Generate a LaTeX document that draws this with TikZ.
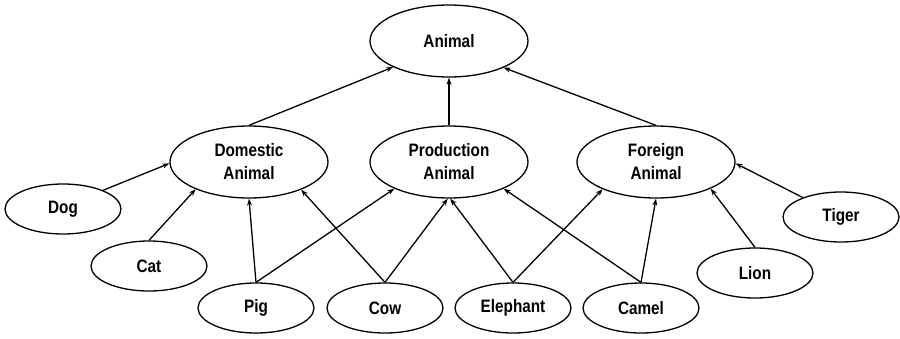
\documentclass[tikz,border=0pt]{standalone}
\usepackage{fontspec}
\setmainfont{Liberation Sans}[FakeStretch=0.85]
\usetikzlibrary{shapes.geometric,arrows.meta}
\tikzset{
  concept/.style={ellipse, draw, line width=1.3pt, inner sep=0pt,
    font=\fontsize{18}{23}\selectfont\bfseries, align=center},
  big/.style={concept, minimum width=158pt, minimum height=72pt},
  small/.style={concept, minimum width=116pt, minimum height=50pt},
  isa/.style={line width=1.3pt, -{Stealth[length=7pt,width=5pt]}}
}
\begin{document}
\begin{tikzpicture}[x=1pt, y=-1pt]
  \useasboundingbox (0,0) rectangle (900,338);
  % top level
  \node[big] (animal) at (449,41) {Animal};
  % categories
  \node[big] (dom)  at (249,162) {Domestic\\Animal};
  \node[big] (prod) at (449,162) {Production\\Animal};
  \node[big] (for)  at (656,162) {Foreign\\Animal};
  % leaves
  \node[small] (dog)   at (63,209)  {Dog};
  \node[small] (cat)   at (149,266) {Cat};
  \node[small] (pig)   at (256,308) {Pig};
  \node[small] (cow)   at (385,308) {Cow};
  \node[small] (eleph) at (513,308) {Elephant};
  \node[small] (camel) at (641,308) {Camel};
  \node[small] (lion)  at (755,273) {Lion};
  \node[small] (tiger) at (841,217) {Tiger};
  % is-a links
  \draw[isa] (dom.north) -- (animal.205);
  \draw[isa] (prod.north) -- (animal.south);
  \draw[isa] (for.north) -- (animal.334);
  \draw[isa] (dog.25) -- (dom.181);
  \draw[isa] (cat.north) -- (dom.207);
  \draw[isa] (pig.north) -- (dom.south);
  \draw[isa] (pig.north) -- (prod.206);
  \draw[isa] (cow.north) -- (dom.332);
  \draw[isa] (cow.north) -- (prod.268);
  \draw[isa] (eleph.north) -- (prod.272);
  \draw[isa] (eleph.north) -- (for.207);
  \draw[isa] (camel.north) -- (prod.334);
  \draw[isa] (camel.north) -- (for.south);
  \draw[isa] (lion.north) -- (for.334);
  \draw[isa] (tiger.153) -- (for.359);
\end{tikzpicture}
\end{document}
